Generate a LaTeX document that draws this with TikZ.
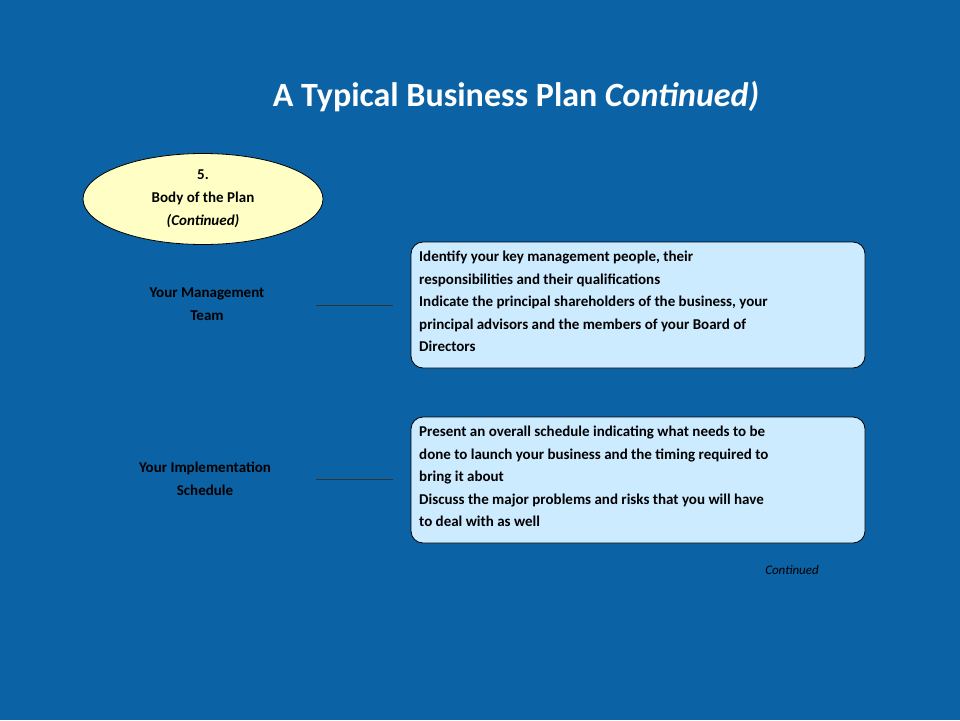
\documentclass[tikz,border=0pt]{standalone}
\usepackage{fontspec}
\setmainfont{Carlito}
\usetikzlibrary{shapes.geometric}
\definecolor{bg}{HTML}{0B62A4}
\definecolor{yel}{HTML}{FFFFC5}
\definecolor{lb}{HTML}{CDEBFF}
\tikzset{
  txt/.style={font=\fontsize{15}{22.5}\selectfont\bfseries, align=left, anchor=north west, inner sep=0pt},
  box/.style={draw=black, line width=0.8pt, fill=lb, rounded corners=12pt},
  lab/.style={font=\fontsize{15}{23}\selectfont\bfseries, align=center, text=black},
  conn/.style={draw=black!80, line width=0.8pt}
}
\begin{document}
\begin{tikzpicture}[x=1pt,y=-1pt]
\fill[bg] (0,0) rectangle (960,720);
\useasboundingbox (0,0) rectangle (960,720);
\node[text=white, font=\fontsize{34}{40}\selectfont\bfseries] (title) at (516,97) {A Typical Business Plan \textit{Continued)}};
\node[ellipse, draw=black, line width=0.8pt, fill=yel, minimum width=240pt, minimum height=91pt, inner sep=0pt, lab] (ell) at (203,199) {5.\\Body of the Plan\\\textit{(Continued)}};
\draw[box] (411,242) rectangle (865,368);
\draw[box] (411,417) rectangle (865,543);
\node[txt] (t1) at (419,251) {Identify your key management people, their\\responsibilities and their qualifications\\Indicate the principal shareholders of the business, your\\principal advisors and the members of your Board of\\Directors};
\node[txt] (t2) at (419,426) {Present an overall schedule indicating what needs to be\\done to launch your business and the timing required to\\bring it about\\Discuss the major problems and risks that you will have\\to deal with as well};
\node[lab] (l1) at (207,304) {Your Management\\Team};
\node[lab] (l2) at (205,479) {Your Implementation\\Schedule};
\coordinate (a1) at (316,305); \coordinate (b1) at (393,305);
\coordinate (a2) at (316,479); \coordinate (b2) at (393,479);
\draw[conn] (a1) -- (b1);
\draw[conn] (a2) -- (b2);
\node[font=\fontsize{13}{15}\selectfont\itshape, text=black] (cont) at (792,570) {Continued};
\end{tikzpicture}
\end{document}
